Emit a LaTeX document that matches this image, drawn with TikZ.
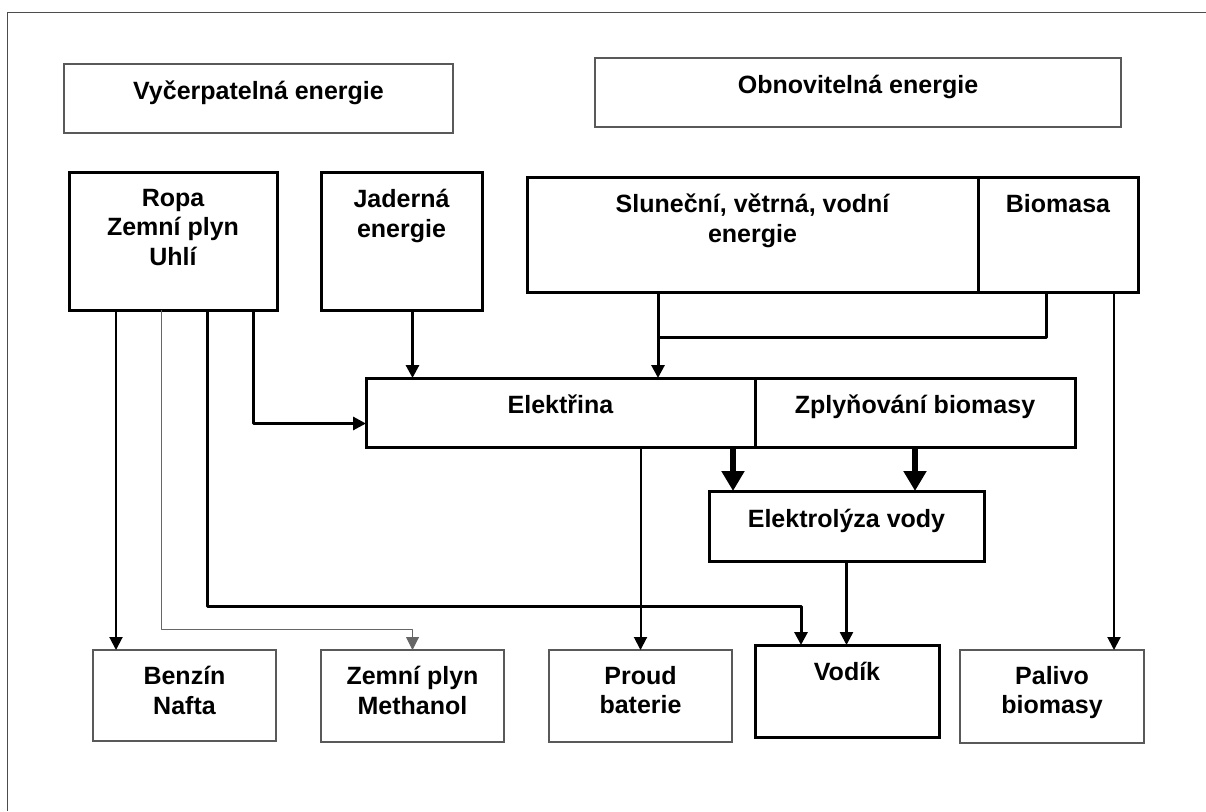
\documentclass[tikz,border=0pt]{standalone}
\usepackage{fontspec}
\setmainfont{Liberation Sans}
\usetikzlibrary{positioning, arrows.meta}

\begin{document}
\begin{tikzpicture}[
    x=1pt, y=-1pt,
    thinbox/.style={draw=black!65, line width=1.1pt, rectangle, anchor=north west, inner sep=0pt, outer sep=0pt},
    thickbox/.style={draw, line width=3pt, rectangle, anchor=north west, inner sep=0pt, outer sep=0pt},
    lbl/.style={inner sep=0pt, align=center, font=\fontsize{25}{29.5}\selectfont\bfseries},
    arr/.style={-{Triangle[width=13pt, length=13pt]}, line width=2pt, line join=round},
    heavyarr/.style={-{Triangle[width=22pt, length=20pt]}, line width=6pt},
    wire/.style={line width=3pt, line join=round}
]
\useasboundingbox (0,0) rectangle (1206,811);
\draw[line width=1pt, black!70] (1206,12) -- (7.5,12) -- (7.5,811);

% headings
\node[thinbox, minimum width=389pt, minimum height=69pt] (vycerp) at (64,64) {};
\node[lbl, below=17pt of vycerp.north] (vycerp-t) {Vyčerpatelná energie};
\node[thinbox, minimum width=526pt, minimum height=69pt] (obnov) at (595,58) {};
\node[lbl, below=17pt of obnov.north] (obnov-t) {Obnovitelná energie};

% sources
\node[thickbox, minimum width=208pt, minimum height=138pt] (ropa) at (69,172) {};
\node[lbl, below=17pt of ropa.north] (ropa-t) {Ropa\\Zemní plyn\\Uhlí};
\node[thickbox, minimum width=161pt, minimum height=138pt] (jaderna) at (321,172) {};
\node[lbl, below=17pt of jaderna.north] (jaderna-t) {Jaderná\\energie};
\node[thickbox, minimum width=451pt, minimum height=115pt] (slunecni) at (527,177) {};
\node[lbl, below=17pt of slunecni.north] (slunecni-t) {Sluneční, větrná, vodní\\energie};
\node[thickbox, minimum width=160pt, minimum height=115pt, anchor=north west] (biomasa) at (slunecni.north east) {};
\node[lbl, below=17pt of biomasa.north] (biomasa-t) {Biomasa};

% conversion
\node[thickbox, minimum width=389pt, minimum height=69pt] (elektrina) at (366,378) {};
\node[lbl, below=17pt of elektrina.north] (elektrina-t) {Elektřina};
\node[thickbox, minimum width=320pt, minimum height=69pt, right=0pt of elektrina] (zplyn) {};
\node[lbl, below=17pt of zplyn.north] (zplyn-t) {Zplyňování biomasy};
\node[thickbox, minimum width=275pt, minimum height=70pt] (elektrolyza) at (709,491) {};
\node[lbl, below=18pt of elektrolyza.north] (elektrolyza-t) {Elektrolýza vody};

% fuels
\node[thinbox, minimum width=183pt, minimum height=91pt] (benzin) at (93,650) {};
\node[lbl, below=16pt of benzin.north] (benzin-t) {Benzín\\Nafta};
\node[thinbox, minimum width=183pt, minimum height=92pt] (zemni) at (321,650) {};
\node[lbl, below=16pt of zemni.north] (zemni-t) {Zemní plyn\\Methanol};
\node[thinbox, minimum width=183pt, minimum height=92pt] (proud) at (549,650) {};
\node[lbl, below=16pt of proud.north] (proud-t) {Proud\\baterie};
\node[thickbox, minimum width=184pt, minimum height=92pt] (vodik) at (755,645) {};
\node[lbl, below=17pt of vodik.north] (vodik-t) {Vodík};
\node[thinbox, minimum width=184pt, minimum height=93pt] (palivo) at (960,650) {};
\node[lbl, below=16pt of palivo.north] (palivo-t) {Palivo\\biomasy};

% fossil routes
\draw[arr] ([xshift=47pt]ropa.south west) coordinate (r1) -- (r1 |- benzin.north);
\draw[arr, line width=1pt, black!60] ([xshift=92pt]ropa.south west) |- ([yshift=21pt]zemni.north) -- (zemni.north);
\draw[arr, line width=3pt] ([xshift=138pt]ropa.south west) |- ([xshift=46pt, yshift=39pt]vodik.north west) -- ([xshift=46pt]vodik.north west);
\draw[arr, line width=3pt] ([xshift=184pt]ropa.south west) |- ([yshift=-11pt]elektrina.west);
\draw[arr, line width=3pt] ([xshift=11pt]jaderna.south) coordinate (j1) -- (j1 |- elektrina.north);

% renewable routes
\draw[arr, line width=3pt] ([xshift=131pt]slunecni.south west) coordinate (s1) -- (s1 |- elektrina.north);
\coordinate (junct) at ([yshift=-45pt]s1);
\draw[wire] ([xshift=68pt]biomasa.south west) |- (junct);
\draw[arr] ([xshift=136pt]biomasa.south west) coordinate (b2) -- (b2 |- palivo.north);

% electricity and hydrogen
\draw[arr] (elektrina.south -| proud.north) -- (proud.north);
\coordinate (e1) at ([xshift=24pt]elektrolyza.north west);
\coordinate (e2) at ([xshift=206pt]elektrolyza.north west);
\draw[heavyarr] (e1 |- elektrina.south) -- (e1);
\draw[heavyarr] (e2 |- zplyn.south) -- (e2);
\draw[arr, line width=2.5pt] (elektrolyza.south) -- (elektrolyza.south |- vodik.north);

\end{tikzpicture}
\end{document}
